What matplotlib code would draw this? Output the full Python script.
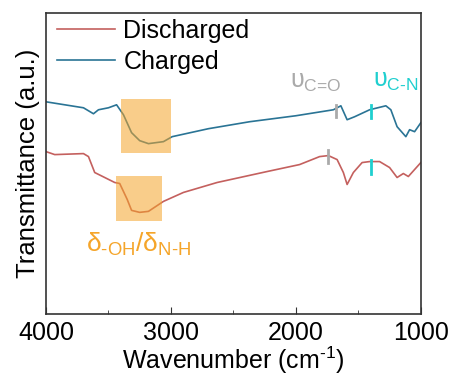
import matplotlib.pyplot as plt
import matplotlib.patches as patches
from matplotlib.ticker import MultipleLocator

plt.rcParams['font.family'] = 'Liberation Sans'
plt.rcParams['mathtext.fontset'] = 'custom'
plt.rcParams['mathtext.rm'] = 'Liberation Sans'
plt.rcParams['mathtext.it'] = 'Liberation Sans'

# charged spectrum (offset, a.u.)
wn_c = [4000, 3850, 3700, 3620, 3580, 3500, 3435, 3380, 3315, 3250, 3180, 3060, 2990,
        2700, 2370, 2000, 1700, 1640, 1590, 1530, 1410, 1280, 1240, 1190, 1120, 1090,
        1050, 1000]
tr_c = [213, 210, 207, 201, 205, 207, 210, 200, 182, 174, 171, 173, 178,
        186, 193, 199, 205, 209, 195, 198, 205, 209, 205, 188, 178, 185,
        183, 192]

# discharged spectrum
wn_d = [4000, 3930, 3700, 3660, 3610, 3530, 3450, 3410, 3350, 3315, 3250, 3180, 3060,
        2900, 2630, 2230, 1970, 1810, 1740, 1670, 1620, 1590, 1540, 1470, 1410, 1330,
        1250, 1190, 1140, 1100, 1000]
tr_d = [163, 160, 161, 158, 142, 137, 132, 131, 115, 104, 102, 103, 113,
        122, 132, 143, 150, 158, 159, 155, 142, 130, 142, 152, 153, 153,
        147, 137, 141, 138, 152]

# highlighted O-H / N-H regions: (wn start, wn end, low, high)
boxes = [(3400, 3000, 162, 216), (3440, 3070, 93, 139)]
# C=O marks (wn, low, high) and C-N marks
co_marks = [(1675, 198, 210), (1745, 152, 165)]
cn_marks = [(1400, 197, 210), (1400, 141, 155)]

red = '#c4605e'
blue = '#2a7495'
orange = '#f5a52a'
cyan = '#1fcfcf'
gray = '#aaaaaa'

fig = plt.figure(figsize=(4.53, 3.76), dpi=100)
ax = fig.add_axes([0.1015, 0.165, 0.8275, 0.8])

ax.plot(wn_d, tr_d, color=red, lw=1.2, label='Discharged')
ax.plot(wn_c, tr_c, color=blue, lw=1.2, label='Charged')

for x0, x1, y0, y1 in boxes:
    ax.add_patch(patches.Rectangle((x1, y0), x0 - x1, y1 - y0, facecolor=orange,
                                   alpha=0.55, edgecolor='none', zorder=3))
for w, y0, y1 in co_marks:
    ax.plot([w, w], [y0, y1], color=gray, lw=2)
for w, y0, y1 in cn_marks:
    ax.plot([w, w], [y0, y1], color=cyan, lw=2)

ax.text(2050, 227, r'$\mathregular{υ_{\text{C=O}}}$', color=gray, fontsize=18)
ax.text(1385, 228, r'$\mathregular{υ_{\text{C-N}}}$', color=cyan, fontsize=18)
ax.text(3680, 62, r'$\mathregular{δ_{\text{-OH}}/δ_{\text{N-H}}}$', color=orange, fontsize=19)

ax.set_xlim(4000, 1000)
ax.set_ylim(0, 302)
ax.set_yticks([])
ax.xaxis.set_major_locator(MultipleLocator(1000))
ax.xaxis.set_minor_locator(MultipleLocator(500))
ax.tick_params(axis='x', which='both', direction='in', labelsize=18, color='#333333', pad=5)
ax.tick_params(axis='x', which='major', length=5)
ax.tick_params(axis='x', which='minor', length=3)
for s in ax.spines.values():
    s.set_color('#333333')
    s.set_linewidth(1.2)

ax.set_xlabel(r'Wavenumber (cm$^{\text{-1}}$)', fontsize=18, labelpad=0)
ax.set_ylabel('Transmittance (a.u.)', fontsize=18.5, labelpad=4)

ax.legend(loc='upper left', frameon=False, fontsize=18, handlelength=2.3,
          handletextpad=0.35, labelspacing=0.28, borderpad=0, borderaxespad=0,
          bbox_to_anchor=(0.03, 0.98))

fig.savefig('out.png', dpi=100)
